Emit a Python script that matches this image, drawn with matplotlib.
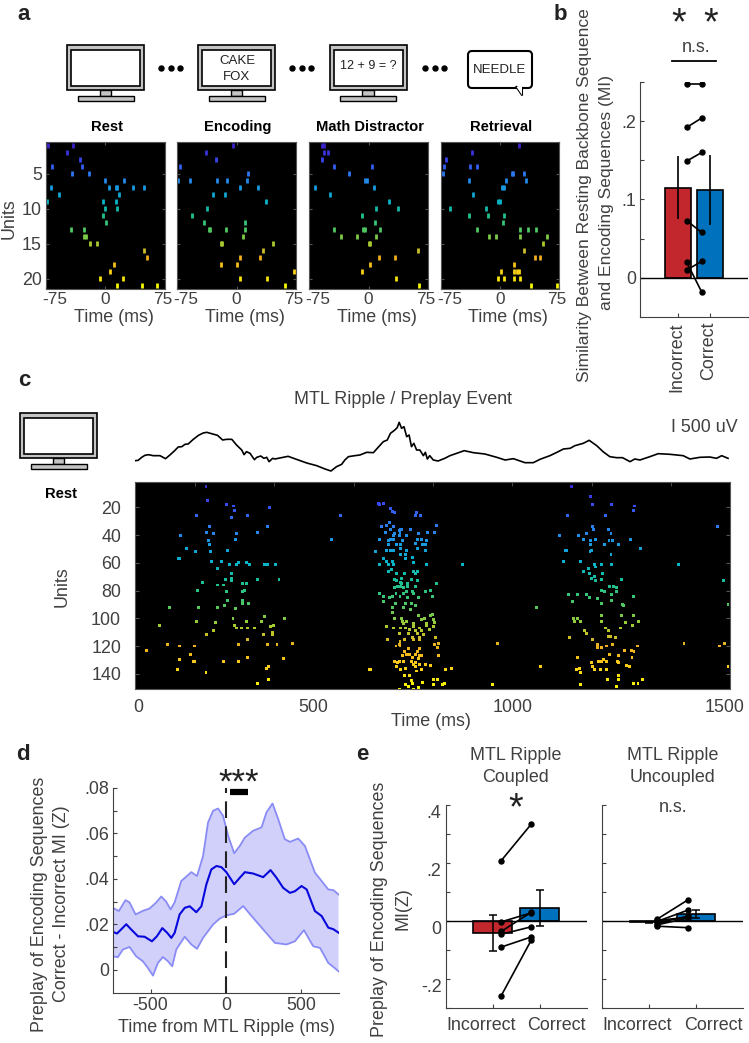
import numpy as np
import matplotlib
matplotlib.use("Agg")
import matplotlib.pyplot as plt
from matplotlib.colors import LinearSegmentedColormap
from matplotlib.patches import Rectangle, FancyBboxPatch, Polygon
from matplotlib.transforms import Affine2D

plt.rcParams['font.family'] = ['Liberation Sans', 'DejaVu Sans']
W, H = 749, 1043
grey = '#404040'
fs = 12.9

# =============================================================================
# data, panel a: spike times (ms) per unit row 1-21
# =============================================================================
rest = [[-73,-41],[-49],[-32],[-68,-30],[-42,-21],[-1,23],[-69,5,13,15,35,49],[-59,17],[-74,-3,13],[-1,15],
        [-3],[1],[-44,-27],[-27,-24],[-20,-11],[49],[52],[11],[6],[-7,22],[14,46,65]]
encoding = [[-5],[-38],[-26],[-71],[14],[-74,-58,-25,-12,13],[5,27],[-30,-14],[37],[-37],
            [-56],[-41,11],[-35,-33,-13,11],[8],[-20,-18,46],[33],[5,30],[-19,1],[72],[5,38],[61]]
math_task = [[-58,-56],[-56,-51],[-59],[-43,4],[-24],[-4,-2],[-67,7],[-49],[26],[9,37],
             [-8],[8],[-43,-7,-5,15],[-35,-15,9],[0,2],[62],[13,33],[2],[-8],[35],[64]]
retrieval = [[24],[-35],[-69],[-71,-38,-29],[-72,15,17,30],[-40,8,33],[2,5],[-34],[-2,0],[-64,-18],
             [-40,-15,5],[4],[-29,25,35,46],[-14,-5,26,60],[55],[31],[45,51],[18],[1,18,22,24],[-3,5,18,25],[40,72]]
a_titles = ['Rest', 'Encoding', 'Math Distractor', 'Retrieval']

# =============================================================================
# data, panel c: ripple trace and raster
# =============================================================================
trace_t = [0,8,17,25,34,46,63,77,88,99,109,118,126,134,147,160,172,181,193,208,221,231,244,256,269,275,281,290,301,
           307,317,325,332,338,347,353,361,386,407,433,458,479,494,508,521,529,538,554,567,584,601,613,626,636,644,
           655,661,666,672,678,685,691,697,703,710,718,727,732,737,743,752,764,781,794,811,830,853,882,912,933,954,
           983,1004,1021,1046,1067,1080,1097,1109,1130,1145,1164,1180,1197,1214,1229,1248,1260,1273,1298,1319,1349,
           1382,1399,1424,1449,1466,1479,1495]
trace_uv = [-27,-13,107,187,213,173,173,53,200,360,520,533,627,640,827,987,1080,1107,1053,987,800,827,827,600,400,213,
            333,267,13,107,160,67,107,-67,67,40,67,147,27,-120,-227,-360,-440,-267,-173,0,133,173,200,307,293,507,733,
            800,1067,1200,1293,1507,1267,1333,933,1000,533,667,400,400,173,307,40,173,0,-40,67,173,267,373,293,240,107,
            0,53,-107,-107,27,173,333,440,467,573,667,787,573,333,133,93,93,-67,40,0,133,253,227,173,40,107,120,67,173,67]

# left burst
c_left_t = [179,182,231,249,252,244,155,284,340,519,189,334,181,199,255,309,115,185,253,187,496,129,153,191,233,110,113,
            192,218,207,239,255,261,282,288,327,333,354,244,227,244,244,310,363,170,209,222,270,280,158,230,272,277,234,
            270,270,287,87,161,209,226,253,247,156,203,281,327,319,378,62,252,255,269,284,301,342,350,199,347,347,181,323,
            283,81,111,150,260,333,358,398,29,139,284,375,111,148,151,224,262,336,331,107,179,592,309,336]
c_left_u = [5,15,18,19,22,27,26,26,20,26,34,34,38,39,39,38,40,44,43,47,43,50,52,52,51,57,57,59,59,64,61,61,60,60,61,61,61,
            61,68,72,71,73,72,72,74,76,76,75,75,80,81,81,80,87,87,89,89,92,92,92,91,93,100,102,103,102,99,102,100,105,105,
            107,107,107,107,106,105,109,110,112,112,112,115,119,120,120,119,119,119,118,123,126,128,129,130,131,131,131,
            131,135,136,137,139,137,147,144]
# middle burst, upper half
c_mid_t = [615,617,626,644,648,654,710,707,719,759,641,634,621,651,644,669,666,673,695,631,654,651,668,666,685,714,738,754,
           616,638,644,651,674,712,722,735,706,639,659,669,725,733,606,634,644,651,669,685,711,733,669,682,700,681,627,633,
           616,639,649,651,703,736,646,639,701,711,708,659,680,671,655,659,697,711,670,673,686,760,
           # lower half
           655,661,669,676,687,708,616,627,641,648,658,668,676,685,688,700,703,715,732,745,749,627,657,648,683,676,698,695,708,649,
           654,671,674,685,676,715,731,722,703,735,750,745,752,756,753,742,633,651,669,682,691,701,706,717,722,734,711,666,689,727,
           636,680,699,701,717,718,757,668,666,658,668,756,764,762,689,717,680,711,685,693,706,675,718,722,764,700,715,
           654,661,666,676,697,706,701,717,732,745,659,682,669,708,710,722,594,782,797,679,693,696,725,752,762,683,690,700,753,775,780,715,666,703,
           826,902,913,1022,1012]
c_mid_u = [17,18,17,21,23,24,24,26,26,33,31,33,34,34,36,36,37,36,36,38,39,40,38,40,40,39,38,38,
           43,44,43,43,44,43,43,44,46,47,47,47,47,47,52,51,51,51,50,51,50,51,54,54,56,57,57,59,
           61,61,59,61,60,61,65,66,66,66,68,68,68,71,72,73,72,73,74,75,75,75,
           78,77,77,78,77,77,82,84,85,84,82,84,82,81,85,81,82,85,81,80,84,88,89,92,89,92,89,94,91,96,
           100,100,102,102,104,98,100,101,104,104,97,98,101,103,106,108,106,107,107,107,108,106,109,107,109,105,111,111,111,112,
           115,115,114,115,114,115,114,117,119,120,120,119,118,121,122,122,124,124,126,126,126,127,127,127,127,128,129,
           131,132,131,131,131,132,133,133,133,134,135,136,137,135,138,137,137,137,136,141,141,145,146,144,144,148,149,147,148,148,147,150,151,151,
           61,148,118,135,92]
# right burst
c_right_t = [1101,1148,1154,1201,1259,1257,1091,1186,1469,1154,1156,1139,1119,1070,1193,1200,1130,1148,1160,1195,1203,1250,
             1149,1184,1220,1274,1084,1089,1151,1147,1200,1080,1123,1143,1159,1162,1175,1201,1369,1130,1145,1151,1159,1161,
             1175,1178,1226,1483,1196,1206,1215,1215,1175,1183,1092,1115,1138,1145,1104,1165,1175,1202,1202,1257,1229,1232,
             1495,1105,1107,1116,1122,1177,1175,1227,1256,1236,1269,1254,1187,1193,1223,1133,1138,1095,1154,1193,1199,1212,
             1384,1486,1473,1167,1165,1175,1189,1204,1266,1235,1252,1258,1196,1218,1253,1116,1169,1175,1182,1189,1216,1220,
             1150,1154,1239,1247,1113,1120,1124,1159,1174,1189,1218,1190,1218,1279,1256,1268,1122,1213,1495]
c_right_u = [5,12,18,18,19,22,26,26,34,34,36,39,40,40,36,39,43,44,43,44,44,43,47,47,47,50,51,51,51,52,54,59,59,64,61,63,61,
             61,61,66,68,71,70,73,72,68,72,73,77,77,78,81,80,81,83,83,83,85,88,86,89,83,87,84,90,91,90,100,102,100,102,98,
             102,98,98,103,102,105,107,109,107,109,111,114,115,113,113,114,118,118,120,119,121,121,120,119,120,123,123,124,
             126,127,128,128,131,131,130,131,131,132,132,135,134,135,137,136,139,137,137,137,141,144,144,144,147,147,148,149,135]

# =============================================================================
# data, panel b
# =============================================================================
b_means = [.115, .112]
b_err_low = [.075, .067]
b_err_high = [.155, .157]
b_incorrect = [.247, .192, .149, .073, .010, .020]
b_correct = [.247, .204, .160, .058, .021, -.018]

# =============================================================================
# data, panel d
# =============================================================================
d_mean_t = [-751,-724,-696,-662,-629,-584,-540,-491,-458,-422,-389,-362,-340,-307,-273,-240,-196,-162,-129,-96,-62,-29,4,
            56,93,127,182,249,298,338,382,427,460,504,538,593,638,682,716,750]
d_mean = [.0168,.0160,.0178,.0201,.0178,.0148,.0146,.0126,.0148,.0184,.0163,.0141,.0163,.0244,.0273,.0280,.0254,.0280,
          .0376,.0442,.0457,.0452,.0430,.0377,.0405,.0430,.0424,.0408,.0439,.0405,.0361,.0339,.0346,.0369,.0354,.0259,
          .0237,.0186,.0179,.0164]
d_up_t = [-751,-711,-667,-640,-600,-551,-507,-462,-429,-396,-367,-340,-296,-229,-191,-151,-118,-84,-51,-18,16,56,93,127,
          182,238,271,311,349,393,427,482,527,593,638,682,716,750]
d_up = [.0273,.0259,.0307,.0297,.0244,.0260,.0270,.0297,.0323,.0300,.0266,.0297,.0391,.0430,.0413,.0501,.0648,.0700,
        .0710,.0678,.0590,.0513,.0545,.0582,.0612,.0627,.0693,.0732,.0663,.0575,.0563,.0578,.0545,.0428,.0391,.0354,.0351,.0332]
d_low_t = [-751,-718,-684,-640,-596,-551,-518,-484,-451,-418,-384,-356,-329,-273,-229,-191,-151,-84,-40,4,56,116,182,249,
           327,404,460,520,582,627,682,716,750]
d_low = [.0060,.0056,.0090,.0101,.0060,.0038,.0009,-.0025,.0031,.0057,.0038,.0016,.0090,.0146,.0112,.0093,.0141,.0200,
         .0226,.0240,.0247,.0281,.0229,.0178,.0119,.0112,.0126,.0175,.0104,.0097,.0031,.0013,-.0006]

# =============================================================================
# data, panel e
# =============================================================================
e_coupled_means = [-.041, .045]
e_coupled_low = [-.102, -.017]
e_coupled_high = [.021, .106]
e_coupled_inc = [.208, -.003, -.036, -.046, -.090, -.258]
e_coupled_cor = [.334, .028, .030, -.020, -.055, -.066]
e_uncoupled_means = [-.005, .024]
e_uncoupled_low = [-.008, .010]
e_uncoupled_high = [-.002, .038]
e_uncoupled_inc = [.007, -.001, -.007, -.013, -.018, .002]
e_uncoupled_cor = [.072, .037, .016, .010, -.023, .013]

# =============================================================================
# helpers
# =============================================================================
parula = LinearSegmentedColormap.from_list('par', ['#3a22c8', '#3a45f0', '#2b78f0', '#1a9ae0', '#08b4c8', '#20c090',
                                                   '#50c860', '#a8cc30', '#f0b020', '#fbd018', '#f8f800'])
fig = plt.figure(figsize=(W/100, H/100), dpi=100)

def add_ax(x0, y0, x1, y1):
    return fig.add_axes([x0/W, 1 - y1/H, (x1-x0)/W, (y1-y0)/H])

def shift(label, dx, dy=0):
    label.set_transform(label.get_transform() + Affine2D().translate(dx, dy))

over = fig.add_axes([0, 0, 1, 1], zorder=20)
over.set_xlim(0, W)
over.set_ylim(H, 0)
over.axis('off')
over.patch.set_alpha(0)

def label(x, y, s, size=fs, color=grey, **kw):
    kw.setdefault('ha', 'center')
    kw.setdefault('va', 'center')
    over.text(x, y, s, fontsize=size, color=color, **kw)

def monitor(x, y):
    over.add_patch(Rectangle((x+32.5, y+45), 11.5, 6, fc='#c4c4c4', ec='k', lw=1))
    over.add_patch(Rectangle((x+10.5, y+50.5), 56, 5.5, fc='#c4c4c4', ec='k', lw=1))
    over.add_patch(Rectangle((x, y), 77, 45, fc='#c4c4c4', ec='k', lw=1.2))
    over.add_patch(Rectangle((x+4, y+5), 69, 36, fc='w', ec='k', lw=1.2))

# =============================================================================
# panel a
# =============================================================================
a_x = [(46, 165), (177, 296), (309, 428), (441, 559)]
for i, spikes in enumerate([rest, encoding, math_task, retrieval]):
    ax = add_ax(a_x[i][0], 142, a_x[i][1], 289)
    ax.set_facecolor('k')
    for row, times in enumerate(spikes):
        ax.vlines(times, row + 1 - .42, row + 1 + .42, color=parula(row/20), lw=2)
    ax.set_xlim(-75, 75)
    ax.set_ylim(21.5, 0.5)
    ax.set_xticks([-75, 0, 75])
    ax.set_xticklabels(['-75', '0', '75'], fontsize=12.4, color=grey)
    ax.set_yticks([5, 10, 15, 20])
    ax.tick_params(direction='in', length=2, color='#555555', top=True, right=True, pad=2)
    ax.tick_params(axis='y', labelsize=fs, labelcolor=grey, pad=3)
    shift(ax.get_xticklabels()[0], 9)
    shift(ax.get_xticklabels()[2], -2)
    if i > 0:
        ax.set_yticklabels([])
    for s in ax.spines.values():
        s.set_color('#555555')
    mid = sum(a_x[i]) / 2
    label(mid + 8, 318, 'Time (ms)')
    label(mid + 1, 127, a_titles[i], size=10.6, color='k', fontweight='bold')
label(9, 219, 'Units', rotation=90)

monitor(67, 45)
monitor(198, 45)
monitor(329.5, 45)
label(237, 61.5, 'CAKE', size=9.5, color='#222222')
label(237, 77, 'FOX', size=9.5, color='#222222')
label(368, 66, '12 + 9 = ?', size=9, color='#222222')
over.add_patch(FancyBboxPatch((468, 51), 64, 37, boxstyle='round,pad=0,rounding_size=4', fc='w', ec='k', lw=1.5))
over.plot([516.5, 522, 522], [87, 95, 88], color='k', lw=1.5)
over.add_patch(Polygon([(516.5, 87), (522, 95), (522, 87)], fc='w', ec='none', zorder=3))
label(500, 70, 'NEEDLE', size=9.5, color='#222222')
for dots in ([161, 171, 180], [292, 301.5, 311], [425, 435, 444]):
    over.plot(dots, [67.7]*3, 'o', color='k', ms=3.6)

# =============================================================================
# panel b
# =============================================================================
ax = add_ax(640, 82, 748, 317)
ax.bar([1, 2], b_means, width=.8, color=['#c1272d', '#0072bd'], edgecolor='k', lw=1.2)
ax.vlines([1, 2], b_err_low, b_err_high, color='k', lw=1.2, zorder=3)
ax.axhline(0, color='k', lw=1)
for inc, cor in zip(b_incorrect, b_correct):
    ax.plot([1.27, 1.74], [inc, cor], '-o', color='k', lw=1.2, ms=3.6, zorder=4)
ax.set_xlim(-.19, 3.19)
ax.set_ylim(-.05, .25)
ax.set_xticks([1, 2])
ax.set_xticklabels([])
ax.set_yticks([0, .05, .1, .15, .2, .25])
ax.set_yticklabels(['0', '', '.1', '', '.2', ''], fontsize=fs, color=grey)
ax.tick_params(direction='in', length=3, color=grey, pad=3)
ax.spines[['top', 'right']].set_visible(False)
ax.spines[['left', 'bottom']].set_color(grey)
label(677, 322, 'Incorrect', rotation=90, va='top')
label(709, 322, 'Correct', rotation=90, va='top')
label(584, 195, 'Similarity Between Resting Backbone Sequence', size=12.6, rotation=90)
label(606, 192, 'and Encoding Sequences (MI)', size=12.6, rotation=90)
label(679, 24, '*', size=27, color='#222222')
label(711, 24, '*', size=27, color='#222222')
label(696, 47, 'n.s.')
over.plot([672, 716], [61, 61], color='k', lw=1.3)

# =============================================================================
# panel c
# =============================================================================
ax = add_ax(135, 415, 730, 475)
ax.plot(trace_t, trace_uv, color='k', lw=1.2)
ax.set_xlim(0, 1500)
ax.set_ylim(-600, 1800)
ax.axis('off')

ax = add_ax(135, 482, 730, 689)
ax.set_facecolor('k')
for ts, us in [(c_left_t, c_left_u), (c_mid_t, c_mid_u), (c_right_t, c_right_u)]:
    ax.scatter(ts, us, c=us, cmap=parula, vmin=1, vmax=151, marker='s', s=4.5, linewidths=0)
ax.set_xlim(0, 1500)
ax.set_ylim(151, 1.7)
ax.set_xticks([7, 449, 953, 1487])
ax.set_xticklabels(['0', '500', '1000', '1500'], fontsize=fs, color=grey)
ax.set_xticks([151, 351, 551, 751, 951, 1151, 1351], minor=True)
ax.set_yticks([20, 40, 60, 80, 100, 120, 140])
ax.tick_params(axis='x', which='major', length=0, pad=7)
ax.tick_params(axis='x', which='minor', direction='in', length=3, color='#555555', top=True, bottom=False)
ax.tick_params(axis='y', direction='in', length=3, color='#555555', right=True, labelsize=fs, labelcolor=grey, pad=10)
for s in ax.spines.values():
    s.set_color('#555555')
label(62, 587, 'Units', rotation=90)
label(431, 722, 'Time (ms)')
label(403, 399, 'MTL Ripple / Preplay Event')
label(704.5, 427, 'I 500 uV')
label(61, 494, 'Rest', size=10.6, color='k', fontweight='bold')
monitor(20, 413)

# =============================================================================
# panel d
# =============================================================================
ax = add_ax(113, 788, 338.5, 992.7)
ax.fill(d_up_t + d_low_t[::-1], d_up + d_low[::-1], color='#d0d0fb', lw=0)
ax.plot(d_up_t, d_up, color='#8a8cf5', lw=1.3)
ax.plot(d_low_t, d_low, color='#8a8cf5', lw=1.3)
ax.plot(d_mean_t, d_mean, color='#0808dc', lw=1.5)
ax.plot([0, 0], [-.01, .08], color='#222222', lw=1.5, dashes=(8, 4))
ax.plot([31, 149], [.0783, .0783], color='k', lw=4.5, solid_capstyle='butt', clip_on=False)
ax.set_xlim(-750, 750)
ax.set_ylim(-.01, .08)
ax.set_xticks([-500, 0, 500])
ax.set_xticklabels(['-500', '0', '500'], fontsize=fs, color=grey)
ax.set_yticks(np.arange(0, .081, .01))
ax.set_yticklabels(['0', '', '.02', '', '.04', '', '.06', '', '.08'], fontsize=fs, color=grey)
ax.tick_params(direction='in', length=3, color=grey, pad=3)
ax.spines[['top', 'right']].set_visible(False)
ax.spines[['left', 'bottom']].set_color(grey)
label(226, 1028, 'Time from MTL Ripple (ms)')
label(40, 904, 'Preplay of Encoding Sequences', rotation=90)
label(62, 904, 'Correct - Incorrect MI (Z)', rotation=90)
label(239, 783, '***', size=25, color='#222222')

# =============================================================================
# panel e
# =============================================================================
e_sets = [((445.7, 586.7), e_coupled_means, e_coupled_low, e_coupled_high, e_coupled_inc, e_coupled_cor),
          ((602, 743), e_uncoupled_means, e_uncoupled_low, e_uncoupled_high, e_uncoupled_inc, e_uncoupled_cor)]
for i, (xr, means, low, high, inc_vals, cor_vals) in enumerate(e_sets):
    ax = add_ax(xr[0], 805, xr[1], 1008)
    ax.bar([1, 2], means, width=.82, color=['#c1272d', '#0072bd'], edgecolor='k', lw=1.2)
    ax.axhline(0, color='k', lw=1)
    ax.errorbar([1, 2], means, yerr=[np.array(means) - np.array(low), np.array(high) - np.array(means)],
                fmt='none', ecolor='k', elinewidth=1.1, capsize=3, capthick=1.1, zorder=3)
    for a, b in zip(inc_vals, cor_vals):
        ax.plot([1.18, 1.82], [a, b], '-o', color='k', lw=1.2, ms=3.6, zorder=4)
    ax.set_xlim(0, 3)
    ax.set_ylim(-.3, .4)
    ax.set_xticks([1, 2])
    ax.set_xticklabels([])
    ax.set_yticks(np.arange(-.3, .41, .1))
    ax.tick_params(direction='in', length=3, color=grey, pad=3)
    if i == 0:
        ax.set_yticklabels(['', '-.2', '', '0', '', '.2', '', '.4'], fontsize=fs, color=grey)
        for lab in ax.get_yticklabels():
            shift(lab, 0, -7)
    else:
        ax.set_yticklabels([])
    ax.spines[['top', 'right']].set_visible(False)
    ax.spines[['left', 'bottom']].set_color(grey)
    label(xr[0] + 35.3, 1025, 'Incorrect')
    label(xr[0] + 111, 1025, 'Correct')
label(515.7, 755.7, 'MTL Ripple')
label(515.7, 777, 'Coupled')
label(672.7, 755.7, 'MTL Ripple')
label(672.7, 777, 'Uncoupled')
label(515.7, 809, '*', size=27, color='#222222')
label(672.7, 807, 'n.s.')
label(380, 909, 'Preplay of Encoding Sequences', rotation=90)
label(403, 909, 'MI(Z)', rotation=90)

# panel letters
for x, y, s in [(24, 14, 'a'), (560, 14, 'b'), (24, 380, 'c'), (23, 755, 'd'), (362, 755, 'e')]:
    label(x, y, s, size=16, color='#222222', fontweight='bold')

fig.savefig('out.png', dpi=100)
